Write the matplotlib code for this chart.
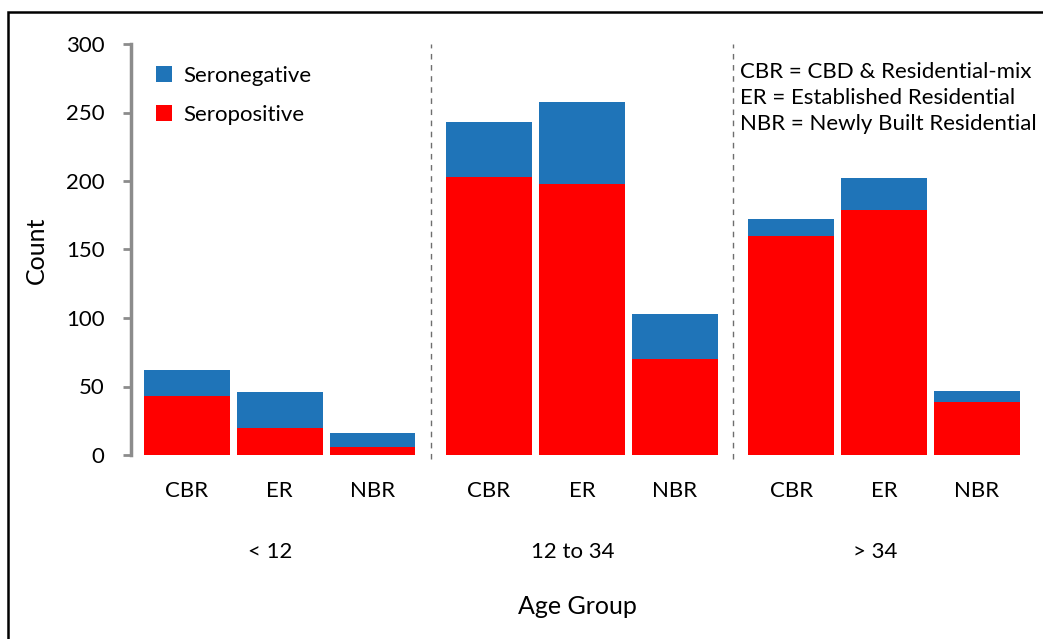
import numpy as np
import matplotlib.pyplot as plt
from matplotlib.patches import Rectangle
from matplotlib.transforms import blended_transform_factory

plt.rcParams['font.family'] = ['Lato', 'DejaVu Sans']

# datos
age_groups = ['< 12', '12 to 34', '> 34']
areas = ['CBR', 'ER', 'NBR']
seropositive = [43, 20, 6, 203, 198, 70, 160, 179, 39]
seronegative = [19, 26, 10, 40, 60, 33, 12, 23, 8]

blue = '#1f74b8'
red = '#ff0000'
grey = '#8c8c8c'

W, H = 1043, 639
fig = plt.figure(figsize=(W / 100, H / 100), dpi=100)
ax = fig.add_axes([131 / W, 1 - 455 / H, (1030 - 131) / W, (455 - 44) / H])

# posiciones: 3 barras por grupo, hueco extra entre grupos
group_step = 3.25
x = np.array([g * group_step + i for g in range(len(age_groups)) for i in range(len(areas))])
width = 0.92

ax.bar(x, seropositive, width, color=red, label='Seropositive', zorder=2)
ax.bar(x, seronegative, width, bottom=seropositive, color=blue, label='Seronegative', zorder=2)

# separadores discontinuos entre grupos
for g in range(1, len(age_groups)):
    xs = g * group_step - (group_step - 2) / 2
    ax.plot([xs, xs], [-3, 300], ls=(0, (4, 4)), color='#6e6e6e', lw=1, clip_on=False)

ax.set_xlim(-0.6, 9.07)
ax.set_ylim(0, 300)
ax.set_yticks(np.arange(0, 301, 50))
ax.tick_params(axis='y', direction='out', length=6, width=2, color=grey, pad=13, labelsize=16)
ax.set_xticks(x)
ax.set_xticklabels(areas * len(age_groups))
ax.tick_params(axis='x', length=0, pad=19, labelsize=16)

for s in ['top', 'right', 'bottom']:
    ax.spines[s].set_visible(False)
ax.spines['left'].set_color(grey)
ax.spines['left'].set_linewidth(2.5)

# etiquetas de grupo de edad
trans = blended_transform_factory(ax.transData, fig.transFigure)
centers = [g * group_step + 0.9 for g in range(len(age_groups))]
for c, lab in zip(centers, age_groups):
    ax.text(c, 1 - 552 / H, lab, transform=trans, ha='center', va='center', fontsize=16)

fig.text(577 / W, 1 - 606 / H, 'Age Group', ha='center', va='center', fontsize=18)
fig.text(36 / W, 1 - 250 / H, 'Count', ha='center', va='center', rotation=90, fontsize=18)

# leyenda
handles, labels = ax.get_legend_handles_labels()
ax.legend(handles[::-1], labels[::-1], loc='upper left', bbox_to_anchor=(0.006, 0.995),
          frameon=False, fontsize=16, handlelength=0.7, handleheight=0.7,
          handletextpad=0.5, labelspacing=0.85)

ax.text(0.677, 0.955, 'CBR = CBD & Residential-mix\nER = Established Residential\nNBR = Newly Built Residential',
        transform=ax.transAxes, ha='left', va='top', fontsize=16, linespacing=1.35)

# marco negro
fig.patches.append(Rectangle((8 / W, -0.05), 1.1, 1 - 12 / H + 0.05, transform=fig.transFigure,
                             fill=False, edgecolor='black', lw=1.8))

plt.savefig('out.png', dpi=100)
